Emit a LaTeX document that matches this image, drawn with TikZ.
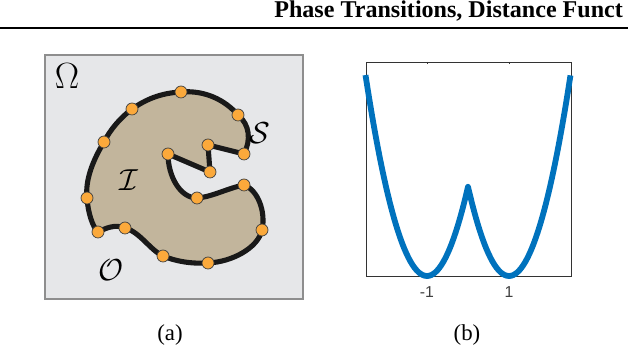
\documentclass[tikz,border=0pt]{standalone}
\usepackage[no-math]{fontspec}
\setmainfont{Liberation Serif}
\setsansfont{Liberation Sans}
\usepackage{tikz}
\usetikzlibrary{positioning, calc}
\definecolor{omegagray}{HTML}{E6E7E9}
\definecolor{framegray}{HTML}{8E8E8E}
\definecolor{sand}{HTML}{C2B59C}
\definecolor{dotorange}{HTML}{FBA93B}
\definecolor{matblue}{HTML}{0072BD}
\tikzset{
  punkt/.style={fill=dotorange, draw=black!75, line width=0.4pt},
  rand/.style={draw=black!90, line width=2.9pt, line join=round},
  menge/.style={font=\fontsize{16}{18}\selectfont}
}
\begin{document}
\begin{tikzpicture}[x=0.02cm, y=-0.02cm]
    \useasboundingbox (0,0) rectangle (628,350);
    % Kopfzeile
    \node[anchor=base west, inner sep=0pt, font=\fontsize{13.7}{15}\selectfont\bfseries] (kopf) at (274,17.5)
      {Phase Transitions, Distance Funct};
    \draw[line width=1.5pt] (0,28) -- (640,28);
    % (a) Gebiet Omega
    \draw[framegray, fill=omegagray, line width=0.6pt] (45,55) rectangle (303,299);
    \node[font=\fontsize{21}{23}\selectfont] (omega) at (67,76) {$\Omega$};
    % Stuetzpunkte auf dem Rand S
    \coordinate (s1) at (244,154);
    \coordinate (s2) at (238,115);
    \coordinate (s3) at (181,92);
    \coordinate (s4) at (132,109);
    \coordinate (s5) at (104,142);
    \coordinate (s6) at (87,198);
    \coordinate (s7) at (98,232);
    \coordinate (s8) at (125,228);
    \coordinate (s9) at (163,256);
    \coordinate (s10) at (208,263);
    \coordinate (s11) at (262,230);
    \coordinate (s12) at (244,185);
    \coordinate (s13) at (197,198);
    \coordinate (s14) at (168,154);
    \coordinate (s15) at (210,172);
    \coordinate (s16) at (208,145);
    % Innengebiet I mit Rand
    \path[rand, fill=sand]
      (s1) .. controls (251,140) and (250,125) .. (s2)
      .. controls (225,100) and (205,90) .. (s3)
      .. controls (160,93) and (145,100) .. (s4)
      .. controls (120,118) and (110,130) .. (s5)
      .. controls (93,160) and (85,180) .. (s6)
      .. controls (88,212) and (92,226) .. (s7)
      .. controls (106,228) and (115,224) .. (s8)
      .. controls (140,232) and (150,250) .. (s9)
      .. controls (175,261) and (190,264) .. (s10)
      .. controls (232,262) and (258,248) .. (s11)
      .. controls (266,212) and (258,190) .. (s12)
      .. controls (228,188) and (212,197) .. (s13)
      .. controls (180,198) and (168,176) .. (s14)
      -- (s15) -- (s16) -- cycle;
    \foreach \p in {1,...,16}
      \fill[punkt] (s\p) circle[radius=0.12cm];
    \node[menge] (setS) at (260,133) {$\mathcal{S}$};
    \node[menge] (setI) at (129,180) {$\mathcal{I}$};
    \node[menge, font=\fontsize{18}{20}\selectfont] (setO) at (111,270) {$\mathcal{O}$};
    \node[font=\fontsize{13}{15}\selectfont] (capa) at (170,335) {(a)};
    % (b) Doppelmulden-Potential
    \draw[black!80, line width=0.5pt] (366,62) rectangle (571,276);
    \foreach \t in {427,509} {
      \draw[black!80, line width=0.5pt] (\t,62) -- (\t,64.5);
      \draw[black!80, line width=0.5pt] (\t,276) -- (\t,273.5);
    }
    \begin{scope}
      \clip (360,50) rectangle (578,290);
      \draw[matblue, line width=3.3pt, line join=round, domain=-2.5:2.5, samples=101]
        plot ({468+41*\x}, {276-89.3*(abs(\x)-1)*(abs(\x)-1)});
    \end{scope}
    \node[font=\sffamily\fontsize{9}{10}\selectfont, text=black!75] (tickm) at (427,292) {-1};
    \node[font=\sffamily\fontsize{9}{10}\selectfont, text=black!75] (tickp) at (509,292) {1};
    \node[font=\fontsize{13}{15}\selectfont] (capb) at (467,335) {(b)};
  \end{tikzpicture}
\end{document}
